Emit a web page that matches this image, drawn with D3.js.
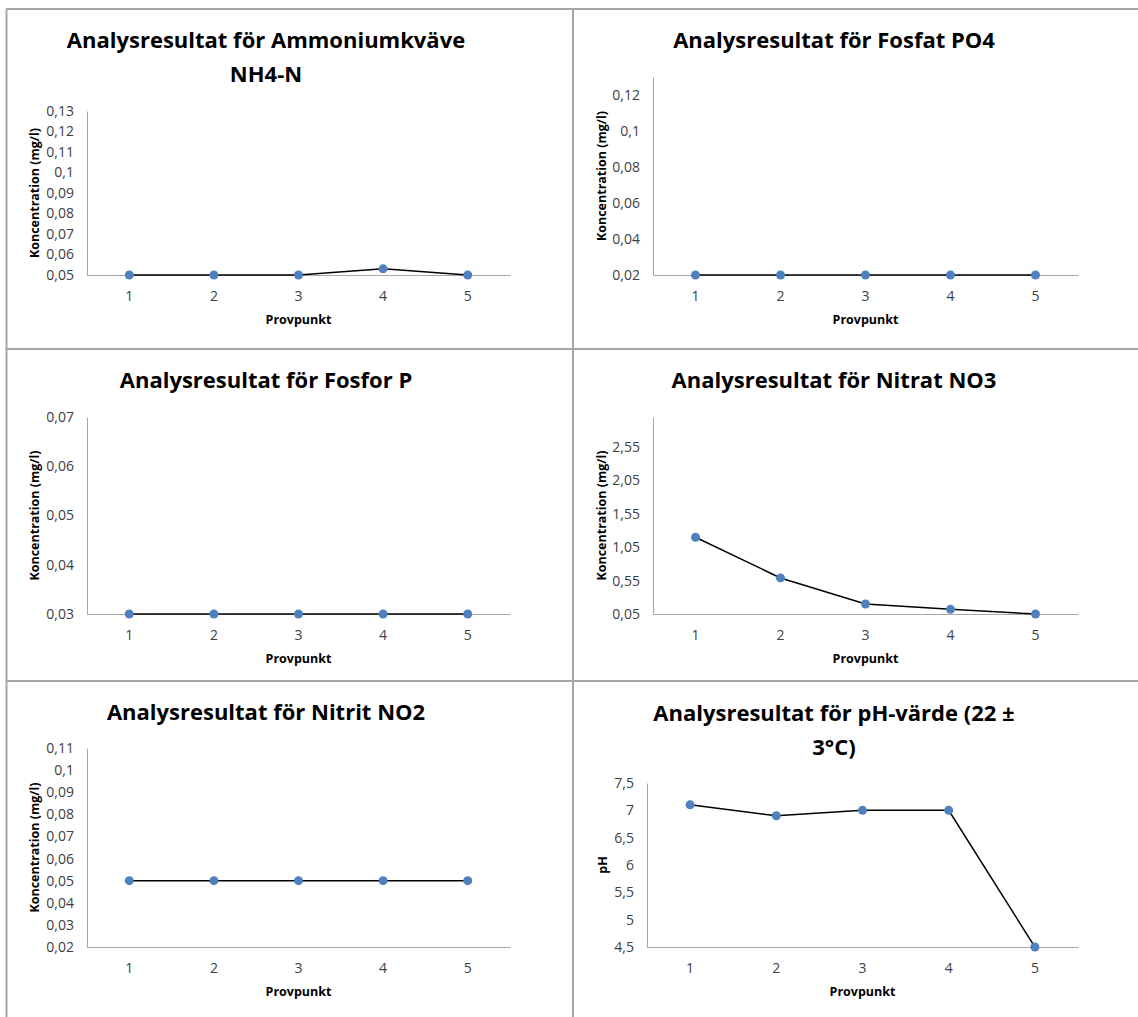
<!DOCTYPE html>
<html>
<head>
<meta charset="utf-8">
<script src="https://cdn.jsdelivr.net/npm/d3@7"></script>
<style>
  body { margin: 0; background: #fff; }
  .tick text { font-family: "Open Sans", sans-serif; font-size: 14px; fill: #404040; }
  .title { font-family: "Open Sans", sans-serif; font-weight: 700; font-size: 22px; fill: #000; }
  .axis-title { font-family: "Open Sans", sans-serif; font-weight: 700; font-size: 12.5px; fill: #000; }
</style>
</head>
<body>
<div id="chart"></div>
<script>
// Sample points on the x axis
const points = [1, 2, 3, 4, 5];

// Measured values per analysis
const ammonium = [0.05, 0.05, 0.05, 0.053, 0.05];
const fosfat = [0.02, 0.02, 0.02, 0.02, 0.02];
const fosfor = [0.03, 0.03, 0.03, 0.03, 0.03];
const nitrat = [1.2, 0.59, 0.2, 0.12, 0.05];
const nitrit = [0.05, 0.05, 0.05, 0.05, 0.05];
const ph = [7.1, 6.9, 7.0, 7.0, 4.5];

// Y tick values and axis extents
const ammoniumTicks = [0.05, 0.06, 0.07, 0.08, 0.09, 0.1, 0.11, 0.12, 0.13];
const fosfatTicks = [0.02, 0.04, 0.06, 0.08, 0.1, 0.12];
const fosforTicks = [0.03, 0.04, 0.05, 0.06, 0.07];
const nitratTicks = [0.05, 0.55, 1.05, 1.55, 2.05, 2.55];
const nitritTicks = [0.02, 0.03, 0.04, 0.05, 0.06, 0.07, 0.08, 0.09, 0.1, 0.11];
const phTicks = [4.5, 5, 5.5, 6, 6.5, 7, 7.5];

const ammoniumDomain = [0.05, 0.13];
const fosfatDomain = [0.02, 0.13];
const fosforDomain = [0.03, 0.07];
const nitratDomain = [0.05, 3.0];
const nitritDomain = [0.02, 0.11];
const phDomain = [4.5, 7.5];

const conc = "Koncentration (mg/l)";
const charts = [
  { title: ["Analysresultat för Ammoniumkväve", "NH4-N"], yLabel: conc, values: ammonium, ticks: ammoniumTicks, domain: ammoniumDomain },
  { title: ["Analysresultat för Fosfat PO4"], yLabel: conc, values: fosfat, ticks: fosfatTicks, domain: fosfatDomain },
  { title: ["Analysresultat för Fosfor P"], yLabel: conc, values: fosfor, ticks: fosforTicks, domain: fosforDomain },
  { title: ["Analysresultat för Nitrat NO3"], yLabel: conc, values: nitrat, ticks: nitratTicks, domain: nitratDomain },
  { title: ["Analysresultat för Nitrit NO2"], yLabel: conc, values: nitrit, ticks: nitritTicks, domain: nitritDomain },
  { title: ["Analysresultat för pH-värde (22 ±", "3°C)"], yLabel: "pH", values: ph, ticks: phTicks, domain: phDomain }
];

// Plot areas (page pixels) for each panel
const layout = [
  { left: 87, right: 510, top: 111, bottom: 275, cx: 266, titleY: 48, yTitleX: 35 },
  { left: 653, right: 1078, top: 77, bottom: 275, cx: 834, titleY: 48, yTitleX: 602 },
  { left: 87, right: 510, top: 417, bottom: 614, cx: 266, titleY: 388, yTitleX: 35 },
  { left: 653, right: 1078, top: 417, bottom: 614, cx: 834, titleY: 388, yTitleX: 602 },
  { left: 87, right: 510, top: 748, bottom: 947, cx: 266, titleY: 720, yTitleX: 35 },
  { left: 647, right: 1078, top: 783, bottom: 947, cx: 834, titleY: 721, yTitleX: 603 }
];

const W = 1138, H = 1017;
const svg = d3.select("#chart").append("svg")
  .attr("width", W)
  .attr("height", H);

// Panel borders
const border = "#a6a6a6";
svg.append("g")
  .selectAll("line")
  .data([[6, 9, W, 9], [6.5, 9, 6.5, H], [573, 9, 573, H], [6, 349, W, 349], [6, 681, W, 681]])
  .enter().append("line")
  .attr("x1", d => d[0]).attr("y1", d => d[1])
  .attr("x2", d => d[2]).attr("y2", d => d[3])
  .attr("stroke", border)
  .attr("stroke-width", 2);

const fmt = d => String(+d.toFixed(3)).replace(".", ",");

charts.forEach((c, i) => {
  const L = layout[i];
  const g = svg.append("g");

  const x = d3.scaleBand()
    .domain(points)
    .range([L.left, L.right]);

  const y = d3.scaleLinear()
    .domain(c.domain)
    .range([L.bottom, L.top]);

  // Title
  g.append("text")
    .attr("class", "title")
    .attr("text-anchor", "middle")
    .selectAll("tspan")
    .data(c.title)
    .enter().append("tspan")
    .attr("x", L.cx)
    .attr("y", (d, j) => L.titleY + j * 34)
    .text(d => d);

  // Y axis
  const yAxis = g.append("g")
    .attr("transform", `translate(${L.left},0)`)
    .call(d3.axisLeft(y).tickValues(c.ticks).tickFormat(fmt).tickSize(0).tickPadding(13));
  yAxis.select(".domain").attr("stroke", "#a6a6a6");

  // X axis
  const xAxis = g.append("g")
    .attr("transform", `translate(0,${L.bottom})`)
    .call(d3.axisBottom(x).tickSize(0).tickPadding(16));
  xAxis.select(".domain").attr("stroke", "#a6a6a6");

  // Axis titles
  g.append("text")
    .attr("class", "axis-title")
    .attr("text-anchor", "middle")
    .attr("x", (L.left + L.right) / 2)
    .attr("y", L.bottom + 49)
    .text("Provpunkt");

  g.append("text")
    .attr("class", "axis-title")
    .attr("text-anchor", "middle")
    .attr("transform", `translate(${L.yTitleX + 4},${(L.top + L.bottom) / 2}) rotate(-90)`)
    .text(c.yLabel);

  // Line and markers
  const line = d3.line()
    .x((d, j) => x(points[j]) + x.bandwidth() / 2)
    .y(d => y(d));

  g.append("path")
    .datum(c.values)
    .attr("fill", "none")
    .attr("stroke", "#000")
    .attr("stroke-width", 1.5)
    .attr("d", line);

  g.selectAll(".dot")
    .data(c.values)
    .enter().append("circle")
    .attr("class", "dot")
    .attr("cx", (d, j) => x(points[j]) + x.bandwidth() / 2)
    .attr("cy", d => y(d))
    .attr("r", 4.5)
    .attr("fill", "#4f81bd");
});
</script>
</body>
</html>
